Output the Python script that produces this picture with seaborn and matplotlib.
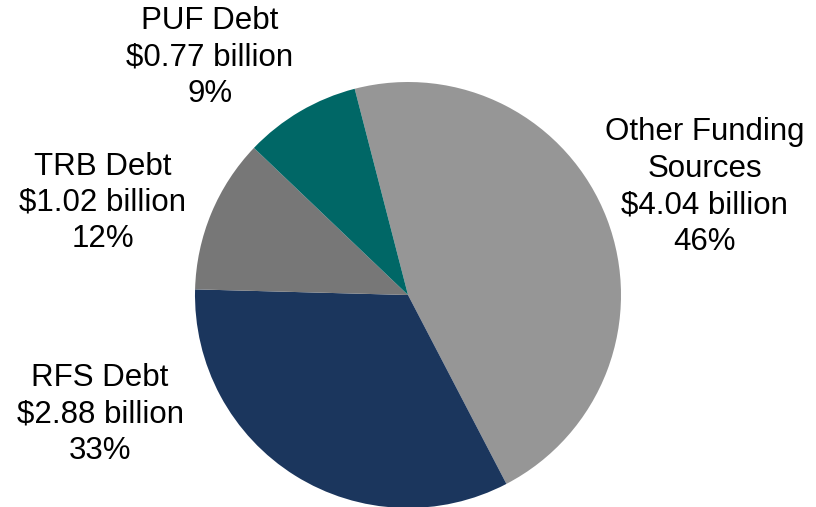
import matplotlib
matplotlib.use("Agg")
import matplotlib.pyplot as plt
import seaborn as sns

sns.set_theme(style="white")
plt.rcParams["font.family"] = ["Liberation Sans", "DejaVu Sans"]

# Funding sources (billions of dollars), in clockwise order from the top
sources = ["Other Funding\nSources", "RFS Debt", "TRB Debt", "PUF Debt"]
amounts = [4.04, 2.88, 1.02, 0.77]
colors = ["#969696", "#1b365d", "#777777", "#006766"]

# Label anchor points in pie-radius units
label_pos = [(1.394, 0.507), (-1.446, -0.563), (-1.432, 0.432), (-0.93, 1.117)]

fig = plt.figure(figsize=(8.16, 5.07), dpi=100)
W, H = 816, 507
cx, cy, r = 408, 295, 213
ax = fig.add_axes([(cx - r) / W, (H - cy - r) / H, 2 * r / W, 2 * r / H])

wedges, _ = ax.pie(amounts, colors=colors, startangle=104.5, counterclock=False,
                   radius=1.0, wedgeprops=dict(linewidth=0))
for w in wedges:
    w.set_clip_on(False)
ax.set_xlim(-1, 1)
ax.set_ylim(-1, 1)
ax.set_aspect("equal")
ax.axis("off")

total = sum(amounts)
for name, val, (x, y) in zip(sources, amounts, label_pos):
    pct = round(val / total * 100)
    ax.text(x, y, f"{name}\n${val:.2f} billion\n{pct}%", ha="center", va="center",
            fontsize=22.5, color="black", linespacing=1.28, clip_on=False)

fig.savefig("out.png", dpi=100)
